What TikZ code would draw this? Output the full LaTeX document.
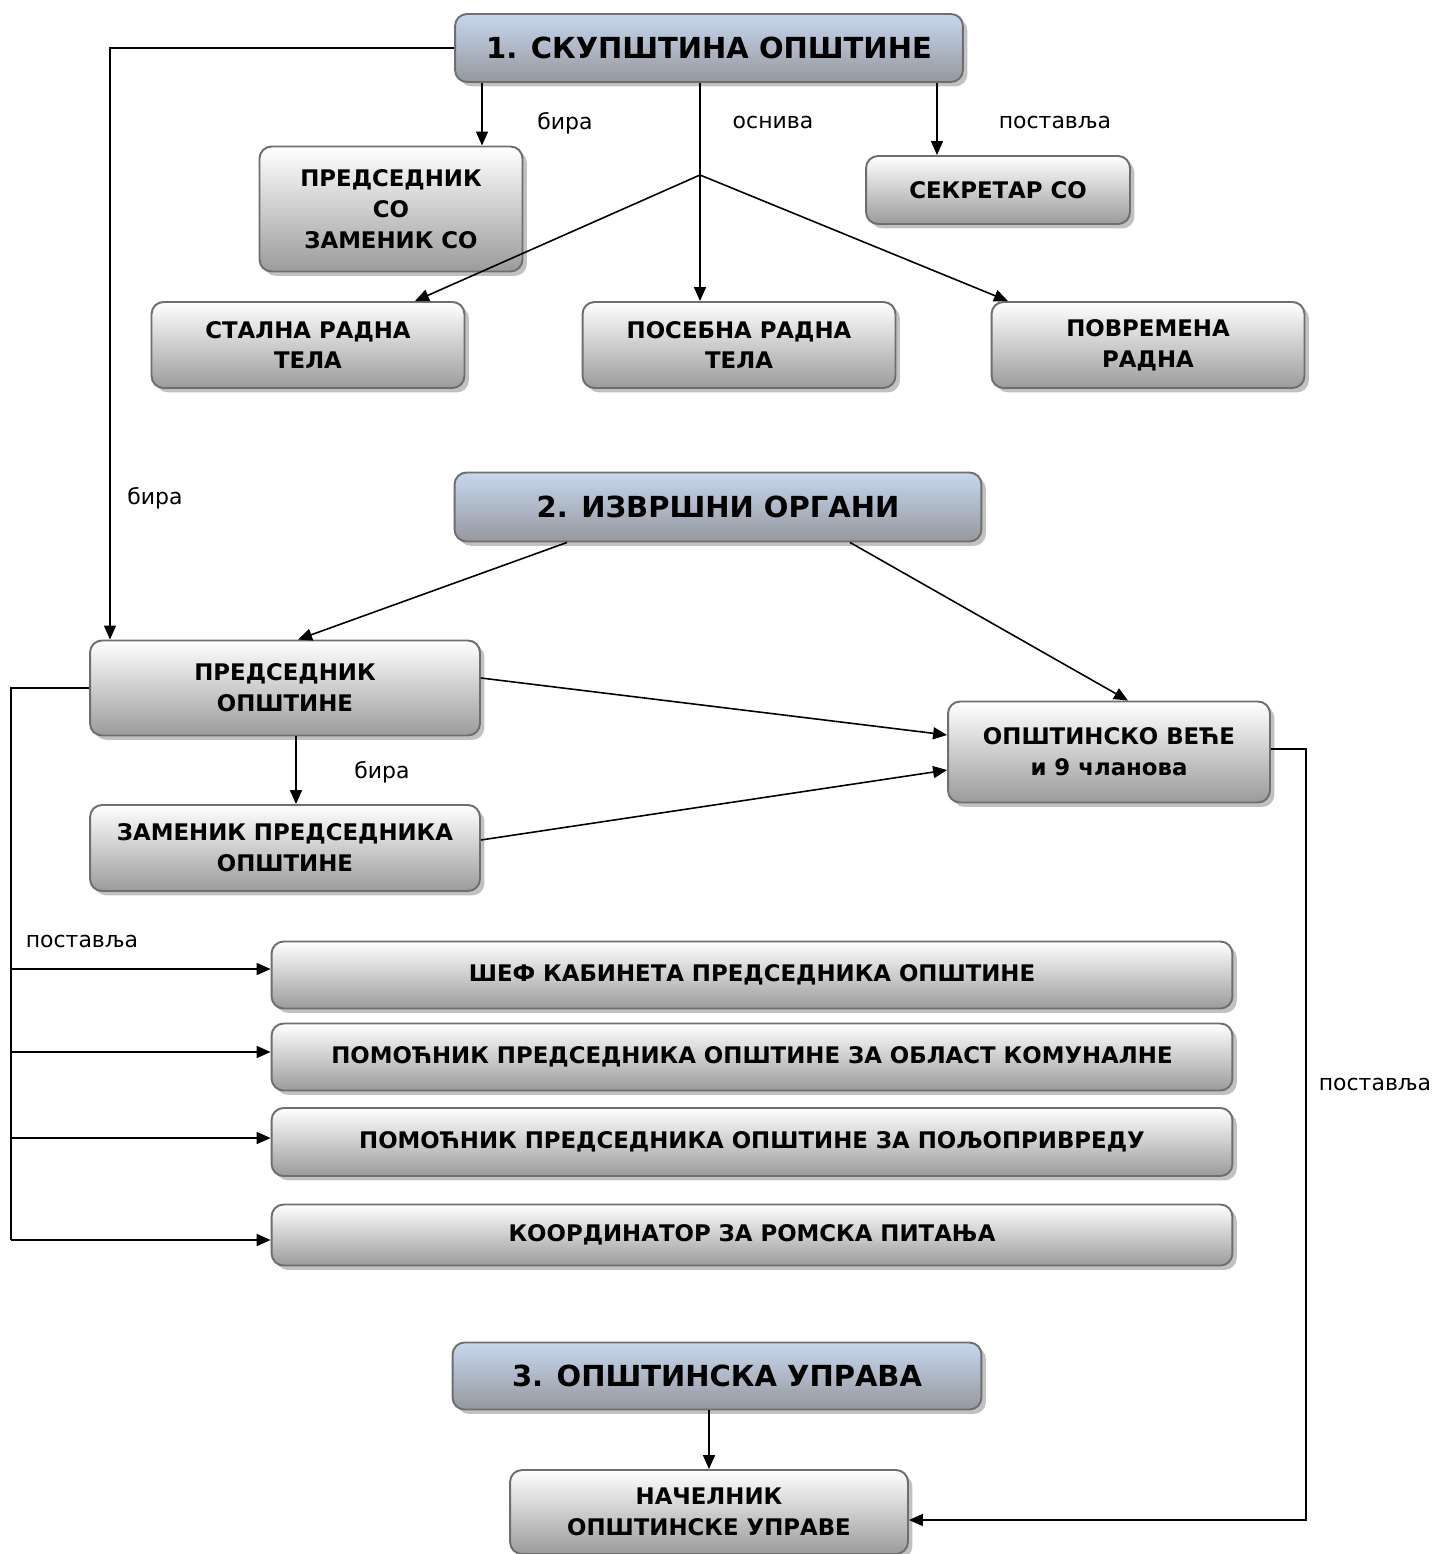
\documentclass[tikz,border=0pt]{standalone}
\usepackage{fontspec}
\setmainfont{DejaVu Sans}
\usepackage{tikz}
\usetikzlibrary{arrows.meta}
\usetikzlibrary{shadows}
\usepackage{xcolor}

\definecolor{boxline}{RGB}{110,110,110}
\definecolor{boxbot}{RGB}{155,155,155}
\definecolor{titletop}{RGB}{198,215,238}
\definecolor{titlebot}{RGB}{150,152,158}

\tikzset{
  box/.style={rounded corners=0.24cm, draw=boxline, line width=1.1pt,
    top color=white, bottom color=boxbot, align=center, inner sep=0pt,
    font=\fontsize{13}{17.5}\selectfont\bfseries,
    drop shadow={shadow xshift=2.5pt, shadow yshift=-2.5pt, fill=black!30, opacity=0.8}},
  titlebox/.style={box, top color=titletop, bottom color=titlebot,
    font=\fontsize{16.5}{20}\selectfont\bfseries},
  lbl/.style={font=\fontsize{12.5}{15}\selectfont},
  arr/.style={-{Triangle[length=0.28cm,width=0.24cm]}},
}

\begin{document}
\begin{tikzpicture}[x=0.02cm, y=-0.02cm, line width=0.9pt]

\useasboundingbox (0,0) rectangle (1434,1554);

% 1. skupstina
\node (t1) at (709,48) [titlebox, minimum width=10.16cm, minimum height=1.36cm] {1. СКУПШТИНА ОПШТИНЕ};
\node (pso) at (391,209) [box, minimum width=5.26cm, minimum height=2.5cm] {ПРЕДСЕДНИК\\СО\\ЗАМЕНИК СО};
\node (sek) at (998,190) [box, minimum width=5.28cm, minimum height=1.36cm] {СЕКРЕТАР СО};
\node (srt) at (308,345) [box, minimum width=6.26cm, minimum height=1.72cm] {СТАЛНА РАДНА\\ТЕЛА};
\node (prt) at (739,345) [box, minimum width=6.26cm, minimum height=1.72cm] {ПОСЕБНА РАДНА\\ТЕЛА};
\node (vrt) at (1148,345) [box, minimum width=6.26cm, minimum height=1.72cm] {ПОВРЕМЕНА\\РАДНА};

% 2. izvrsni organi
\node (t2) at (718,507) [titlebox, minimum width=10.54cm, minimum height=1.38cm] {2. ИЗВРШНИ ОРГАНИ};
\node (po) at (285,688) [box, minimum width=7.8cm, minimum height=1.9cm] {ПРЕДСЕДНИК\\ОПШТИНЕ};
\node (vece) at (1109,752) [box, minimum width=6.44cm, minimum height=2.02cm] {ОПШТИНСКО ВЕЋЕ\\и 9 чланова};
\node (zpo) at (285,848) [box, minimum width=7.8cm, minimum height=1.72cm] {ЗАМЕНИК ПРЕДСЕДНИКА\\ОПШТИНЕ};

\node (sef) at (752,975) [box, minimum width=19.22cm, minimum height=1.34cm] {ШЕФ КАБИНЕТА ПРЕДСЕДНИКА ОПШТИНЕ};
\node (kom) at (752,1057) [box, minimum width=19.22cm, minimum height=1.34cm] {ПОМОЋНИК ПРЕДСЕДНИКА ОПШТИНЕ ЗА ОБЛАСТ КОМУНАЛНЕ};
\node (polj) at (752,1142) [box, minimum width=19.22cm, minimum height=1.36cm] {ПОМОЋНИК ПРЕДСЕДНИКА ОПШТИНЕ ЗА ПОЉОПРИВРЕДУ};
\node (koor) at (752,1235) [box, minimum width=19.22cm, minimum height=1.22cm] {КООРДИНАТОР ЗА РОМСКА ПИТАЊА};

% 3. opstinska uprava
\node (t3) at (717,1376) [titlebox, minimum width=10.58cm, minimum height=1.34cm] {3. ОПШТИНСКА УПРАВА};
\node (nac) at (709,1512) [box, minimum width=7.96cm, minimum height=1.68cm] {НАЧЕЛНИК\\ОПШТИНСКЕ УПРАВЕ};

% labels
\node (l1) at (565,123) [lbl] {бира};
\node (l2) at (773,123) [lbl] {оснива};
\node (l3) at (1055,123) [lbl] {поставља};
\node (l4) at (155,498) [lbl] {бира};
\node (l5) at (382,772) [lbl] {бира};
\node (l6) at (82,941) [lbl] {поставља};
\node (l7) at (1375,1084) [lbl] {поставља};

% helper points
\coordinate (c110) at (110,0);
\coordinate (c482) at (482,0);
\coordinate (c937) at (937,0);
\coordinate (c415) at (415,0);
\coordinate (c1008) at (1008,0);
\coordinate (c567) at (567,0);
\coordinate (c298) at (298,0);
\coordinate (c850) at (850,0);
\coordinate (c1128) at (1128,0);
\coordinate (j0) at (700,175);
\coordinate (bus) at (11,1240);

% connectors
\draw[arr] (t1.west) -| (c110 |- po.north);
\draw[arr] (t1.south -| c482) -- (pso.north -| c482);
\draw (t1.south -| j0) -- (j0);
\draw[arr] (j0) -- (srt.north -| c415);
\draw[arr] (j0) -- (prt.north -| j0);
\draw[arr] (j0) -- (vrt.north -| c1008);
\draw[arr] (t1.south -| c937) -- (sek.north -| c937);

\draw[arr] (t2.south -| c567) -- (po.north -| c298);
\draw[arr] (t2.south -| c850) -- (vece.north -| c1128);
\draw[arr] ([yshift=0.2cm]po.east) -- ([yshift=0.34cm]vece.west);
\draw[arr] ([yshift=0.16cm]zpo.east) -- ([yshift=-0.36cm]vece.west);
\draw[arr] ([xshift=0.22cm]po.south) -- ([xshift=0.22cm]zpo.north);

\draw (po.west) -| (bus);
\draw[arr] ([yshift=0.12cm]sef.west -| bus) -- ([yshift=0.12cm]sef.west);
\draw[arr] ([yshift=0.1cm]kom.west -| bus) -- ([yshift=0.1cm]kom.west);
\draw[arr] ([yshift=0.08cm]polj.west -| bus) -- ([yshift=0.08cm]polj.west);
\draw[arr] (bus) -- (bus -| koor.west);

\draw[arr] ([yshift=0.06cm]vece.east) -- ++(35,0) |- ([yshift=-0.16cm]nac.east);
\draw[arr] (t3.south -| nac.north) -- (nac.north);

\end{tikzpicture}
\end{document}
